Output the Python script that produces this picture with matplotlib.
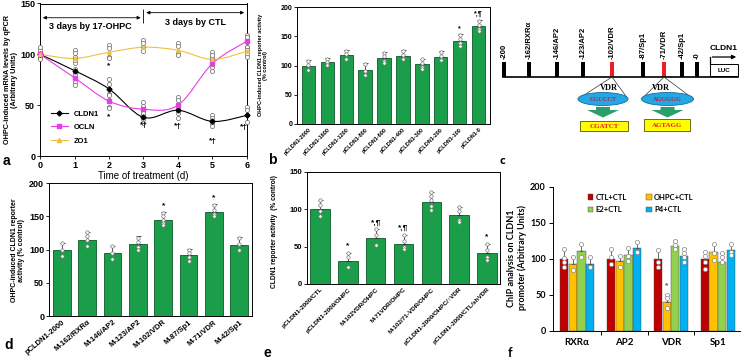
import matplotlib
matplotlib.use('Agg')
import matplotlib.pyplot as plt
from matplotlib.path import Path
from matplotlib.patches import PathPatch, Ellipse, Rectangle, Polygon
from matplotlib.lines import Line2D
import numpy as np

plt.rcParams['font.family'] = ['Liberation Sans', 'DejaVu Sans']
plt.rcParams['font.weight'] = 'bold'
plt.rcParams['axes.linewidth'] = 0.7

# ---------------- data ----------------
# a: time course (qPCR)
days = [0, 1, 2, 3, 4, 5, 6]
cldn1 = [100, 84, 66, 38, 45, 34, 40]
ocln = [100, 77, 54, 46, 50, 91, 113]
zo1 = [100, 96, 102, 107, 104, 95, 103]
cldn1_reps = [[102, 100, 98, 97], [91, 86, 82, 78], [76, 71, 66, 61], [45, 40, 36, 32],
              [50, 45, 42, 37], [40, 37, 32, 30], [48, 45, 40, 33]]
ocln_reps = [[104, 100, 97, 96], [80, 77, 73, 70], [60, 55, 48, 47], [53, 49, 45, 42],
             [58, 55, 50, 46], [96, 93, 88, 84], [119, 117, 112, 107]]
zo1_reps = [[107, 100, 97, 95], [104, 101, 97, 94], [109, 106, 97, 96], [114, 111, 107, 103],
            [111, 108, 101, 99], [102, 99, 93, 90], [107, 104, 100, 97]]
a_marks = [(2, 89, '*'), (2, 39, '*'), (3, 30, '*†'), (4, 29, '*†'), (5, 14, '*†'), (5.9, 28, '*†')]

# b: deletion constructs
b_labels = ['pCLDN1-2000', 'pCLDN1-1600', 'pCLDN1-1200', 'pCLDN1-800', 'pCLDN1-600',
            'pCLDN1-400', 'pCLDN1-300', 'pCLDN1-200', 'pCLDN1-100', 'pCLDN1-0']
b_vals = [100, 106, 118, 92, 113, 117, 103, 115, 142, 168]
b_tops = [110, 113, 127, 104, 123, 127, 112, 125, 154, 178]
b_reps = [[108, 101, 93], [112, 107, 101], [125, 120, 112], [102, 90, 84], [122, 116, 108, 104],
          [125, 119, 112], [111, 105, 98, 95], [123, 117, 110], [152, 145, 138, 134],
          [177, 170, 163, 159]]
b_marks = {8: '*', 9: '*,¶'}

# c: promoter map
c_sites = ['-200', '-162/RXRα', '-146/AP2', '-123/AP2', '-102/VDR', '-87/Sp1', '-71/VDR', '-42/Sp1', '-0']
c_site_x = [504, 529, 557, 583, 612, 643, 664, 682, 697]
c_vdr = ['-102/VDR', '-71/VDR']
c_wild = ['CGCCCT', 'AGGGGG']
c_mut = ['CGATCT', 'AGTAGG']

# d: point mutants
d_labels = ['pCLDN1-2000', 'M-162/RXRα', 'M-146/AP2', 'M-123/AP2', 'M-102/VDR', 'M-87/Sp1', 'M-71/VDR', 'M-42/Sp1']
d_vals = [100, 115, 95, 108, 145, 91, 156, 107]
d_tops = [110, 127, 106, 120, 157, 101, 168, 119]
d_reps = [[110, 100, 90], [126, 121, 115, 106], [105, 95, 86], [118, 111, 104, 99],
          [155, 150, 145, 140, 137], [100, 95, 88, 83], [167, 160, 154, 150], [118, 108, 100]]
d_marks = {4: '*', 6: '*'}

# e: OHPC / VDR
e_labels = ['pCLDN1-2000/CTL', 'pCLDN1-2000/OHPC', 'M-102VDR/OHPC', 'M-71VDR/OHPC',
            'M-102/71-VDR/OHPC', 'pCLDN1-2000/OHPC/↑VDR', 'pCLDN1-2000/CTL/shVDR']
e_vals = [100, 31, 62, 54, 109, 92, 41]
e_tops = [112, 42, 73, 66, 123, 103, 54]
e_reps = [[112, 106, 98, 91], [42, 36, 23], [73, 66, 52], [65, 58, 50, 47],
          [123, 118, 112, 104, 99], [103, 97, 86, 83], [54, 45, 36, 32]]
e_marks = {1: '*', 2: '*,¶', 3: '*,¶', 6: '*'}

# f: ChIP
f_groups = ['RXRα', 'AP2', 'VDR', 'Sp1']
f_series = ['CTL+CTL', 'OHPC+CTL', 'E2+CTL', 'P4+CTL']
f_colors = ['#c00000', '#ffc000', '#92d050', '#00b0f0']
f_vals = [[100, 100, 100, 100], [92, 97, 40, 109], [111, 105, 117, 95], [93, 115, 104, 112]]
f_tops = [[113, 113, 112, 110], [103, 104, 51, 120], [121, 115, 126, 108], [102, 123, 115, 120]]
f_reps = [[[113, 101, 95, 88], [113, 103, 93], [112, 96, 88], [110, 104, 96, 86]],
          [[103, 85], [104, 88], [50, 46, 32], [120, 108, 98]],
          [[121, 103], [115, 104, 97], [125, 119, 113], [108, 103, 95]],
          [[102, 88], [123, 110], [114, 108, 102, 96], [120, 110, 105]]]

# ---------------- figure ----------------
W, H = 742, 364
fig = plt.figure(figsize=(W / 100, H / 100), dpi=100)


def box(x0, y0, x1, y1):
    return [x0 / W, 1 - y1 / H, (x1 - x0) / W, (y1 - y0) / H]


def ftext(x, y, s, **kw):
    fig.text(x / W, 1 - y / H, s, **kw)


def smooth_path(xs, ys):
    p = np.column_stack([xs, ys]).astype(float)
    pp = np.vstack([p[0], p, p[-1]])
    verts = [p[0]]
    codes = [Path.MOVETO]
    for i in range(len(p) - 1):
        p0, p1, p2, p3 = pp[i], pp[i + 1], pp[i + 2], pp[i + 3]
        verts += [p1 + (p2 - p0) / 6, p2 - (p3 - p1) / 6, p2]
        codes += [Path.CURVE4] * 3
    return Path(verts, codes)


def green_bars(ax, vals, tops, reps, marks, fs_mark=6):
    x = np.arange(len(vals))
    ax.bar(x, vals, 0.7, color='#1a9e4a', edgecolor='#0b5a28', lw=0.6, zorder=2)
    up = np.array(tops) - np.array(vals)
    ax.errorbar(x, vals, yerr=[np.zeros(len(vals)), up], fmt='none', ecolor='#333333',
                elinewidth=0.6, capsize=1.8, capthick=0.6, zorder=3)
    for i, r in enumerate(reps):
        ax.scatter([i] * len(r), r, s=6, facecolor='white', edgecolor='#777777', lw=0.5, zorder=4)
    for i, s in marks.items():
        ax.text(i, tops[i] + 4, s, ha='center', va='bottom', fontsize=fs_mark)


# ---- a ----
ax = fig.add_axes(box(40, 3.5, 247, 156))
for vals, reps, col, mk, name in [(cldn1, cldn1_reps, 'black', 'D', 'CLDN1'),
                                  (ocln, ocln_reps, '#e83ce8', 's', 'OCLN'),
                                  (zo1, zo1_reps, '#f0c040', '^', 'ZO1')]:
    ax.add_patch(PathPatch(smooth_path(days, vals), fill=False, edgecolor=col, lw=0.8, zorder=2))
    for d, r in zip(days, reps):
        ax.scatter([d] * len(r), r, s=9, facecolor='white', edgecolor='#666666', lw=0.5,
                   zorder=3, clip_on=False)
    ax.plot(days, vals, ls='none', marker=mk, ms=2.5, color=col, zorder=4, clip_on=False)
handles = [Line2D([], [], color='black', marker='D', ms=2.5, lw=0.8),
           Line2D([], [], color='#e83ce8', marker='s', ms=3, lw=0.8),
           Line2D([], [], color='#f0c040', marker='^', ms=3, lw=0.8)]
ax.legend(handles, ['CLDN1', 'OCLN', 'ZO1'], loc='lower left', bbox_to_anchor=(0.02, 0.03),
          frameon=False, fontsize=5.5, handlelength=2.2, labelspacing=0.8)
for x, y, s in a_marks:
    ax.text(x, y, s, ha='center', va='center', fontsize=6)
ax.annotate('', xy=(0, 136), xytext=(3, 136), arrowprops=dict(arrowstyle='<|-|>', lw=0.6, color='black', mutation_scale=5))
ax.annotate('', xy=(3, 141), xytext=(6, 141), arrowprops=dict(arrowstyle='<|-|>', lw=0.6, color='black', mutation_scale=5))
ax.vlines([0, 3, 6], [132, 131, 139], [140, 145, 145], color='black', lw=0.6)
ax.text(1.45, 127, '3 days by 17-OHPC', ha='center', va='center', fontsize=6.5)
ax.text(4.5, 131, '3 days by CTL', ha='center', va='center', fontsize=6.5)
ax.set_xlim(0, 6)
ax.set_ylim(0, 150)
ax.set_xticks(days)
ax.set_yticks([0, 50, 100, 150])
ax.tick_params(labelsize=6.5, length=2, width=0.6, pad=1.5)
ax.set_xlabel('Time of treatment (d)', fontsize=7, labelpad=0.5)
ftext(11, 80, 'OHPC-induced mRNA levels by qPCR\n(Arbitrary Units)', rotation=90,
      ha='center', va='center', fontsize=5.2, linespacing=1.1)
ftext(3, 161, 'a', fontsize=10, va='center')

# ---- b ----
ax = fig.add_axes(box(297, 7.3, 490, 124))
green_bars(ax, b_vals, b_tops, b_reps, b_marks, fs_mark=5)
ax.set_xlim(-0.6, 9.6)
ax.set_ylim(0, 200)
ax.set_yticks([0, 50, 100, 150, 200])
ax.set_xticks(range(len(b_labels)))
ax.set_xticklabels(b_labels, rotation=45, ha='right', rotation_mode='anchor', fontsize=4)
ax.tick_params(axis='y', labelsize=5, length=2, width=0.6, pad=1.5)
ax.tick_params(axis='x', length=0, pad=2)
ftext(263, 65, 'OHPC-induced CLDN1 reporter activity\n(% control)', rotation=90,
      ha='center', va='center', fontsize=4, linespacing=1.2)
ftext(268, 160, 'b', fontsize=10, va='center')

# ---- c ----
ax = fig.add_axes(box(490, 0, 742, 140))
ax.set_xlim(490, 742)
ax.set_ylim(140, 0)
ax.axis('off')
ax.plot([503, 738], [77, 77], color='black', lw=1.2)
for lab, x in zip(c_sites, c_site_x):
    col = '#ee1c25' if lab in c_vdr else 'black'
    ax.add_patch(Rectangle((x - 1.8, 62), 3.6, 15, facecolor=col, edgecolor='none'))
    ax.text(x, 59, lab, rotation=90, ha='center', va='bottom', fontsize=5.5)
ax.add_patch(Rectangle((710, 64), 28, 12, facecolor='white', edgecolor='black', lw=0.7))
ax.text(724, 70.5, 'LUC', ha='center', va='center', fontsize=4.5)
ax.plot([710, 710], [64, 57], color='black', lw=0.9)
ax.annotate('', xy=(739, 57), xytext=(709.6, 57), arrowprops=dict(arrowstyle='-|>', lw=0.9, color='black', mutation_scale=6))
ax.text(724, 49, 'CLDN1', ha='center', va='center', fontsize=6)
for k, lab in enumerate(c_vdr):
    sx = c_site_x[c_sites.index(lab)]
    cx = [603, 667.5][k]
    w = [50, 52][k]
    ax.plot([cx - w / 2, sx, cx + w / 2], [99, 77, 99], color='#333333', lw=0.5)
    ax.add_patch(Ellipse((cx, 99), w, 13, facecolor='#22a8e2', edgecolor='#1a6aa0', lw=0.6, zorder=3))
    ax.text(sx - 3, 88.5, 'VDR', ha='center', va='center', fontsize=6, family='Liberation Serif', zorder=4)
    ax.text(cx, 99.5, c_wild[k], ha='center', va='center', fontsize=4.5, color='#c81a3c',
            family='Liberation Serif', zorder=4)
    ax.add_patch(Polygon([[cx - 7, 107], [cx + 7, 107], [cx + 7, 110], [cx + 16, 110], [cx, 117.5],
                          [cx - 16, 110], [cx - 7, 110]], closed=True, facecolor='#2a9f6c', edgecolor='none'))
    bx0, by0, bx1, by1 = [(580, 121, 628, 131), (644, 119, 690, 131)][k]
    ax.add_patch(Rectangle((bx0, by0), bx1 - bx0, by1 - by0, facecolor='#ffff00', edgecolor='#555500', lw=0.6))
    ax.text((bx0 + bx1) / 2, (by0 + by1) / 2 + 0.5, c_mut[k], ha='center', va='center', fontsize=5,
            color='#ee1c25', family='Liberation Serif')
ftext(500, 162, 'c', fontsize=8, va='center', family='Open Sans')

# ---- d ----
ax = fig.add_axes(box(49, 183, 252, 316))
green_bars(ax, d_vals, d_tops, d_reps, d_marks, fs_mark=6)
ax.set_xlim(-0.5, 7.5)
ax.set_ylim(0, 200)
ax.set_yticks([0, 50, 100, 150, 200])
ax.set_xticks(range(len(d_labels)))
ax.set_xticklabels(d_labels, rotation=40, ha='right', rotation_mode='anchor', fontsize=5.5)
ax.tick_params(axis='y', labelsize=6.5, length=2, width=0.6, pad=1.5)
ax.tick_params(axis='x', length=0, pad=2)
ftext(18, 250, 'OHPC-induced CLDN1 reporter\nactivity (% control)', rotation=90,
      ha='center', va='center', fontsize=5, linespacing=1.1)
ftext(4, 345, 'd', fontsize=10, va='center')

# ---- e ----
ax = fig.add_axes(box(307, 171.7, 500, 284))
green_bars(ax, e_vals, e_tops, e_reps, e_marks, fs_mark=6)
ax.set_xlim(-0.47, 6.47)
ax.set_ylim(0, 150)
ax.set_yticks([0, 50, 100, 150])
ax.set_xticks(range(len(e_labels)))
ax.set_xticklabels(e_labels, rotation=45, ha='right', rotation_mode='anchor', fontsize=4.6)
ax.tick_params(axis='y', labelsize=5.5, length=2, width=0.6, pad=1.5)
ax.tick_params(axis='x', length=0, pad=2)
ftext(274, 232, 'CLDN1 reporter activity  (% control)', rotation=90,
      ha='center', va='center', fontsize=4.8)
ftext(264, 353, 'e', fontsize=10, va='center')

# ---- f ----
ax = fig.add_axes(box(552.7, 186.7, 740, 330.7))
xg = np.arange(len(f_groups))
bw = 0.185
f_handles = []
for s, (name, col) in enumerate(zip(f_series, f_colors)):
    xs = xg + (s - 1.5) * bw
    h = ax.bar(xs, f_vals[s], bw * 0.95, color=col, edgecolor='#444444', lw=0.3, label=name, zorder=2)
    f_handles.append(h)
    up = np.array(f_tops[s]) - np.array(f_vals[s])
    ax.errorbar(xs, f_vals[s], yerr=[np.zeros(4), up], fmt='none', ecolor='#555555',
                elinewidth=0.6, capsize=1.3, capthick=0.6, zorder=3)
    for g in range(4):
        r = f_reps[s][g]
        ax.scatter([xs[g]] * len(r), r, s=9, facecolor='white', edgecolor='#888888', lw=0.5, zorder=4)
ax.text(2 - 0.5 * bw, 62, '*', ha='center', va='center', fontsize=6, color='#555555')
ax.set_xlim(-0.52, 3.47)
ax.set_ylim(0, 200)
ax.set_yticks([0, 50, 100, 150, 200])
ax.set_xticks(xg)
ax.set_xticklabels(f_groups, family='Lato', fontsize=7)
ax.set_xticks([0.5, 1.5, 2.5], minor=True)
ax.tick_params(axis='x', which='major', length=0, pad=5)
ax.tick_params(axis='x', which='minor', length=3, width=0.7)
ax.tick_params(axis='y', labelsize=6.5, length=3, width=0.7, pad=2)
for t in ax.get_yticklabels():
    t.set_family('Lato')
ax.spines['top'].set_visible(False)
ax.spines['right'].set_visible(False)
order = [0, 2, 1, 3]
ax.legend([f_handles[i] for i in order], [f_series[i] for i in order],
          loc='upper left', bbox_to_anchor=(0.15, 1.0), ncol=2, frameon=False,
          prop={'family': 'Lato', 'weight': 'bold', 'size': 5.5}, handlelength=0.7,
          handleheight=0.7, handletextpad=0.3, columnspacing=2.6, labelspacing=0.7)
ftext(517, 258, 'ChIP analysis on CLDN1\npromoter (Arbitrary Units)', rotation=90,
      ha='center', va='center', fontsize=6.5, family='Lato', linespacing=1.1)
ftext(508, 353, 'f', fontsize=9, va='center', family='Lato')

fig.savefig('out.png', dpi=100)
